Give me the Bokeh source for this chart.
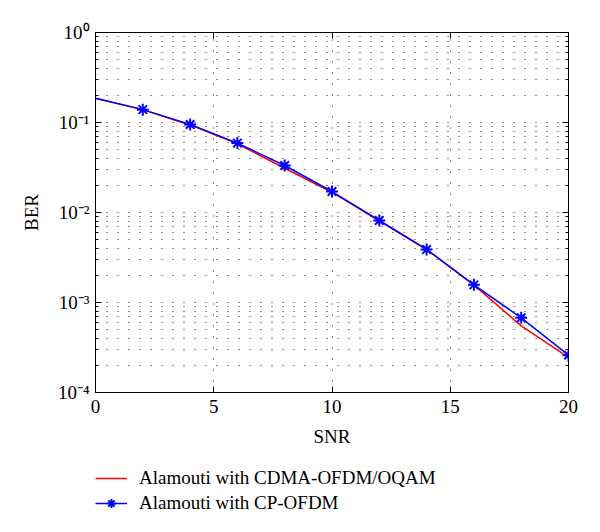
from bokeh.plotting import figure
from bokeh.layouts import column
from bokeh.models import (FixedTicker, LinearAxis, LogAxis, Legend, LegendItem,
                          CustomJSTickFormatter, Range1d)
from bokeh.embed import file_html
from bokeh.resources import INLINE

# ---- data ----
snr = [0, 2, 4, 6, 8, 10, 12, 14, 16, 18, 20]
ber_cdma_oqam = [0.186, 0.139, 0.094, 0.058, 0.031, 0.0168, 0.0081, 0.0039, 0.00157, 0.00055, 0.000245]
ber_cp_ofdm = [0.186, 0.139, 0.095, 0.059, 0.0333, 0.0171, 0.00815, 0.00388, 0.00157, 0.000676, 0.00026]
x_ticks = [0, 5, 10, 15, 20]
y_ticks = [1e-4, 1e-3, 1e-2, 1e-1, 1.0]
y_tick_labels = ["10\u207b\u2074", "10\u207b\u00b3", "10\u207b\u00b2", "10\u207b\u00b9", "10\u2070"]
y_minor = [m * d for d in [1e-4, 1e-3, 1e-2, 1e-1] for m in range(2, 10)]
series_names = ["Alamouti with CDMA-OFDM/OQAM", "Alamouti with CP-OFDM"]

FONT = "Liberation Serif"
RED = "#ff0000"
BLUE = "#0000ff"

# ---------------- main plot ----------------
p = figure(frame_width=473, frame_height=360, y_axis_type="log",
           x_range=(0, 20), y_range=(1e-4, 1),
           output_backend="svg", toolbar_location=None,
           min_border_left=95, min_border_right=16,
           min_border_top=32, min_border_bottom=64,
           background_fill_color="white", border_fill_color="white")
p.outline_line_color = "black"
p.outline_line_width = 1

xt = FixedTicker(ticks=x_ticks)
yt = FixedTicker(ticks=y_ticks, minor_ticks=y_minor)

p.xaxis.ticker = xt
p.yaxis.ticker = yt
p.yaxis.major_label_overrides = {v: s for v, s in zip(y_ticks, y_tick_labels)}

for ax in [p.xaxis[0], p.yaxis[0]]:
    ax.axis_line_color = "black"
    ax.major_tick_in = 6
    ax.major_tick_out = 0
    ax.minor_tick_in = 3
    ax.minor_tick_out = 0
    ax.major_tick_line_color = "black"
    ax.minor_tick_line_color = "black"
    ax.major_label_text_font = FONT
    ax.major_label_text_font_size = "19px"
    ax.major_label_text_color = "black"
    ax.axis_label_text_font = FONT
    ax.axis_label_text_font_size = "19px"
    ax.axis_label_text_font_style = "normal"
    ax.axis_label_text_color = "black"
p.xaxis.major_label_standoff = 7
p.xaxis.axis_label = "SNR"
p.xaxis.axis_label_standoff = 10
p.yaxis.major_label_standoff = 6
p.yaxis.axis_label = "BER"
p.yaxis.axis_label_standoff = 13

blank = CustomJSTickFormatter(code="return '';")
top = LinearAxis(ticker=xt, major_tick_in=6, major_tick_out=0, minor_tick_in=0, minor_tick_out=0,
                 formatter=blank, major_label_text_alpha=0, major_label_standoff=0,
                 axis_line_color="black")
right = LogAxis(ticker=yt, major_tick_in=6, major_tick_out=0, minor_tick_in=3, minor_tick_out=0,
                formatter=blank, major_label_text_alpha=0, major_label_standoff=0,
                axis_line_color="black")
p.add_layout(top, "above")
p.add_layout(right, "right")

# grid
p.xgrid.ticker = xt
p.xgrid.grid_line_color = "#222222"
p.xgrid.grid_line_dash = "1 10"
p.xgrid.grid_line_width = 1
p.ygrid.ticker = yt
p.ygrid.grid_line_color = "#222222"
p.ygrid.grid_line_dash = "1 10"
p.ygrid.minor_grid_line_color = "#222222"
p.ygrid.minor_grid_line_dash = "1 10"

p.line(snr, ber_cdma_oqam, line_color=RED, line_width=1.5)
p.line(snr, ber_cp_ofdm, line_color=BLUE, line_width=1.5)
p.scatter(snr[1:], ber_cp_ofdm[1:], marker="asterisk", size=12, line_color=BLUE, line_width=2)

# ---------------- legend strip below ----------------
q = figure(width=584, height=60, x_range=(0, 20), y_range=Range1d(10, 20),
           output_backend="svg", toolbar_location=None,
           x_axis_location=None, y_axis_location=None,
           min_border_left=0, min_border_right=0, min_border_top=0, min_border_bottom=0,
           background_fill_color="white", border_fill_color="white")
q.outline_line_color = None
q.xgrid.visible = False
q.ygrid.visible = False
# legend-only renderers (data lie outside this strip's range, so only the legend shows)
lr = q.line(snr, ber_cdma_oqam, line_color=RED, line_width=1.5)
lb = q.line(snr, ber_cp_ofdm, line_color=BLUE, line_width=1.5)
ls = q.scatter(snr, ber_cp_ofdm, marker="asterisk", size=12, line_color=BLUE, line_width=2)

legend = Legend(items=[LegendItem(label=series_names[0], renderers=[lr]),
                       LegendItem(label=series_names[1], renderers=[lb, ls])],
                location=(0, 2), border_line_color=None, background_fill_alpha=0,
                glyph_width=32, glyph_height=22, label_height=22, label_standoff=12, spacing=3,
                padding=0, margin=0,
                label_text_font=FONT, label_text_font_size="19px", label_text_color="black")
q.add_layout(legend, "center")

layout = column(p, q, spacing=0)
open("out.html", "w").write(file_html(layout, INLINE))
